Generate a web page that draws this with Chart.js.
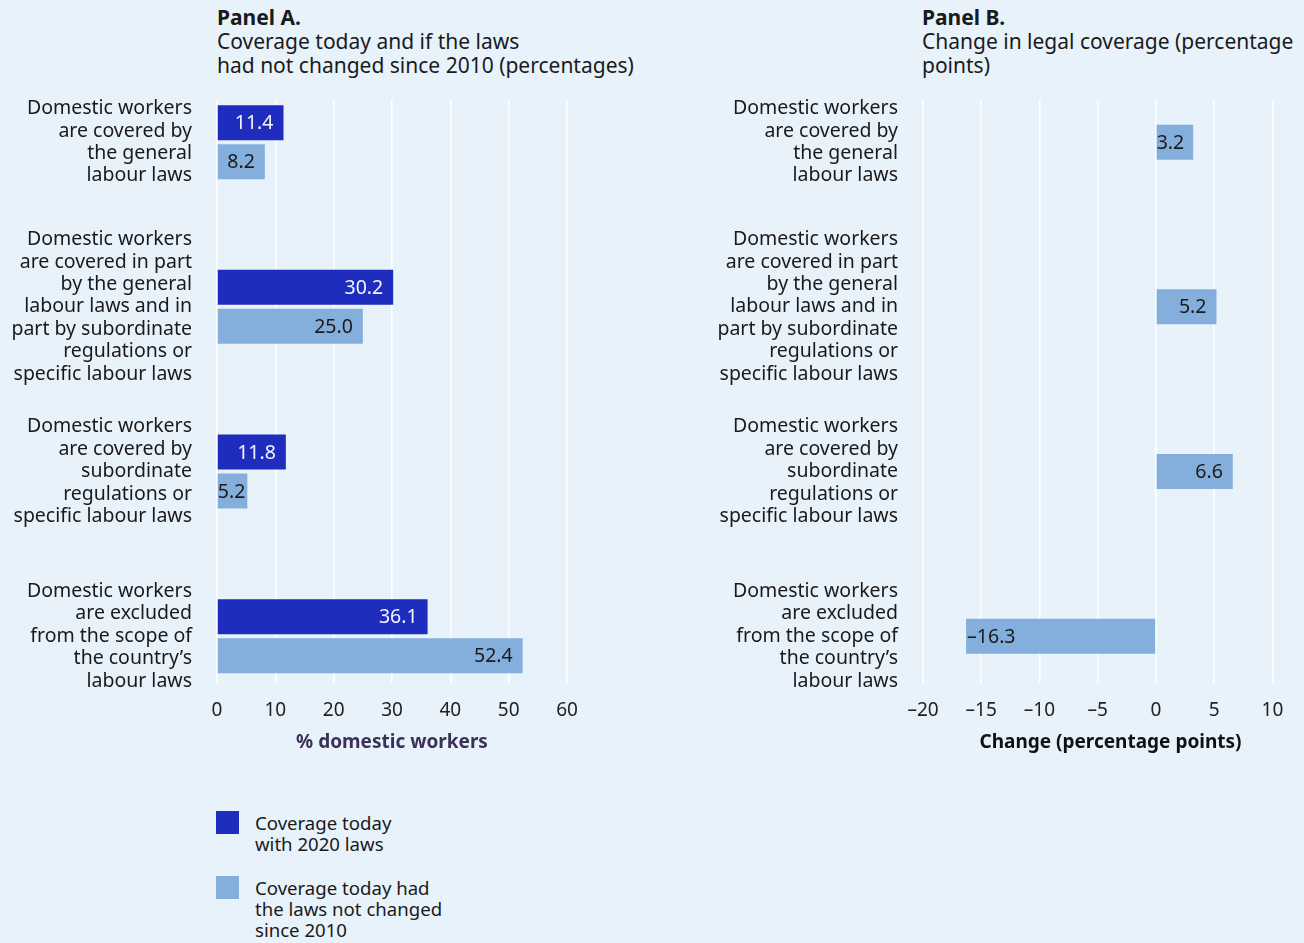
<!DOCTYPE html>
<html>
<head>
<meta charset="utf-8">
<script src="https://cdn.jsdelivr.net/npm/chart.js@4.4.1/dist/chart.umd.min.js"></script>
<style>
  html, body { margin: 0; padding: 0; background: #e8f2fb; }
  body { width: 1304px; height: 943px; position: relative; overflow: hidden;
         font-family: 'Noto Sans', sans-serif; color: #1a1a1a; }
  .title { position: absolute; top: 5px; font-size: 21px; line-height: 24px; white-space: nowrap; }
  .title b { font-weight: 700; }
  #canvasA { position: absolute; left: 0; top: 0; }
  #canvasB { position: absolute; left: 652px; top: 0; }
  #legend { position: absolute; left: 216px; top: 812px; font-size: 18.6px; line-height: 21px; }
  #legend .item { position: relative; padding-left: 39px; height: 65px; white-space: nowrap; }
  #legend .sw { position: absolute; left: 0; top: -1px; width: 23px; height: 23px; }
</style>
</head>
<body>
<div class="title" style="left:217px"><b>Panel A.</b><br>Coverage today and if the laws<br>had not changed since 2010 (percentages)</div>
<div class="title" style="left:922px"><b>Panel B.</b><br>Change in legal coverage (percentage<br>points)</div>
<canvas id="canvasA" width="640" height="760"></canvas>
<canvas id="canvasB" width="652" height="760"></canvas>
<div id="legend"></div>

<script>
// ================= DATA =================
const categories = [
    ["Domestic workers", "are covered by", "the general", "labour laws"],
    ["Domestic workers", "are covered in part", "by the general", "labour laws and in", "part by subordinate", "regulations or", "specific labour laws"],
    ["Domestic workers", "are covered by", "subordinate", "regulations or", "specific labour laws"],
    ["Domestic workers", "are excluded", "from the scope of", "the country\u2019s", "labour laws"]
];

const coverage2020 = [11.4, 30.2, 11.8, 36.1];
const coverage2010 = [8.2, 25.0, 5.2, 52.4];
const changePoints = [3.2, 5.2, 6.6, -16.3];

const legendLabels = [
    ["Coverage today", "with 2020 laws"],
    ["Coverage today had", "the laws not changed", "since 2010"]
];

// axis range, tick step and last labelled tick
const ticksA = { min: 0, max: 60, step: 10, last: 60 };
const ticksB = { min: -20, max: 12.2, step: 5, last: 10 };

// ================= STYLE =================
const DARK = "#1f2dbf";
const LIGHT = "#84afdc";
const TEXT = "#1a1a1a";
Chart.defaults.font.family = "'Noto Sans', sans-serif";

const fmtNum = v => (v < 0 ? "\u2013" + Math.abs(v) : String(v));
const fmtVal = v => (v < 0 ? "\u2013" + Math.abs(v).toFixed(1) : v.toFixed(1));

// ================= VALUE LABELS =================
const barLabels = {
    id: "barLabels",
    afterDatasetsDraw(chart, args, opts) {
        const ctx = chart.ctx;
        ctx.save();
        ctx.font = "19.5px 'Noto Sans'";
        ctx.textBaseline = "middle";
        ctx.textAlign = "left";
        chart.data.datasets.forEach((ds, di) => {
            ctx.fillStyle = opts.colors[di];
            chart.getDatasetMeta(di).data.forEach((bar, i) => {
                const v = ds.data[i].x;
                const txt = fmtVal(v);
                const w = ctx.measureText(txt).width;
                let x;
                if (v >= 0) x = Math.max(bar.x - 10 - w, bar.base);
                else x = bar.x + 1;
                ctx.fillText(txt, x, bar.y + 1);
            });
        });
        ctx.restore();
    }
};

// ================= SHARED AXES =================
// category rows sit on a linear index scale so the rows can fill the plot height
function yAxis(width) {
    return {
        type: "linear",
        reverse: true,
        offset: false,
        min: -0.256,
        max: 3.284,
        afterBuildTicks: s => { s.ticks = categories.map((_, i) => ({ value: i })); },
        afterFit: s => { s.width = width; },
        ticks: {
            callback: v => categories[v],
            autoSkip: false,
            padding: 25,
            color: TEXT,
            font: { size: 19.5, lineHeight: 1.15 }
        },
        grid: { display: false, drawTicks: false, offset: false },
        border: { display: false }
    };
}

function xAxis(t, title, titleColor) {
    return {
        type: "linear",
        min: t.min,
        max: t.max,
        afterBuildTicks: s => {
            const list = [];
            for (let v = t.min; v <= t.last; v += t.step) list.push({ value: v });
            s.ticks = list;
        },
        afterFit: s => { s.height = 71; },
        ticks: { padding: 16, color: "#222", font: { size: 19 }, callback: v => fmtNum(v) },
        grid: { color: "#ffffff", lineWidth: 1.5, drawTicks: false },
        border: { display: false },
        title: { display: true, text: title, color: titleColor, font: { size: 19, weight: "bold" }, padding: { top: 0, bottom: 0 } }
    };
}

// ================= PANEL A =================
new Chart(document.getElementById("canvasA"), {
    type: "bar",
    data: {
        datasets: [
            { label: legendLabels[0].join(" "), data: coverage2020.map((v, i) => ({ x: v, y: i })), backgroundColor: DARK },
            { label: legendLabels[1].join(" "), data: coverage2010.map((v, i) => ({ x: v, y: i })), backgroundColor: LIGHT }
        ]
    },
    options: {
        indexAxis: "y",
        responsive: false,
        animation: false,
        layout: { padding: { top: 100, right: 73, bottom: 6, left: 0 } },
        datasets: { bar: { categoryPercentage: 0.4736, barPercentage: 0.8974 } },
        plugins: {
            legend: { display: false },
            tooltip: { enabled: false },
            barLabels: { colors: ["#f4f4ff", TEXT] }
        },
        scales: {
            x: xAxis(ticksA, "% domestic workers", "#3b3157"),
            y: yAxis(217)
        }
    },
    plugins: [barLabels]
});

// ================= PANEL B =================
new Chart(document.getElementById("canvasB"), {
    type: "bar",
    data: {
        datasets: [
            { label: "Change", data: changePoints.map((v, i) => ({ x: v, y: i })), backgroundColor: LIGHT }
        ]
    },
    options: {
        indexAxis: "y",
        responsive: false,
        animation: false,
        layout: { padding: { top: 100, right: 6, bottom: 6, left: 0 } },
        datasets: { bar: { categoryPercentage: 0.2368, barPercentage: 0.8974 } },
        plugins: {
            legend: { display: false },
            tooltip: { enabled: false },
            barLabels: { colors: [TEXT] }
        },
        scales: {
            x: xAxis(ticksB, "Change (percentage points)", "#111"),
            y: yAxis(271)
        }
    },
    plugins: [barLabels]
});

// ================= LEGEND =================
const legendEl = document.getElementById("legend");
[DARK, LIGHT].forEach((c, i) => {
    const item = document.createElement("div");
    item.className = "item";
    item.innerHTML = `<span class="sw" style="background:${c}"></span>` + legendLabels[i].join("<br>");
    legendEl.appendChild(item);
});
</script>
</body>
</html>
